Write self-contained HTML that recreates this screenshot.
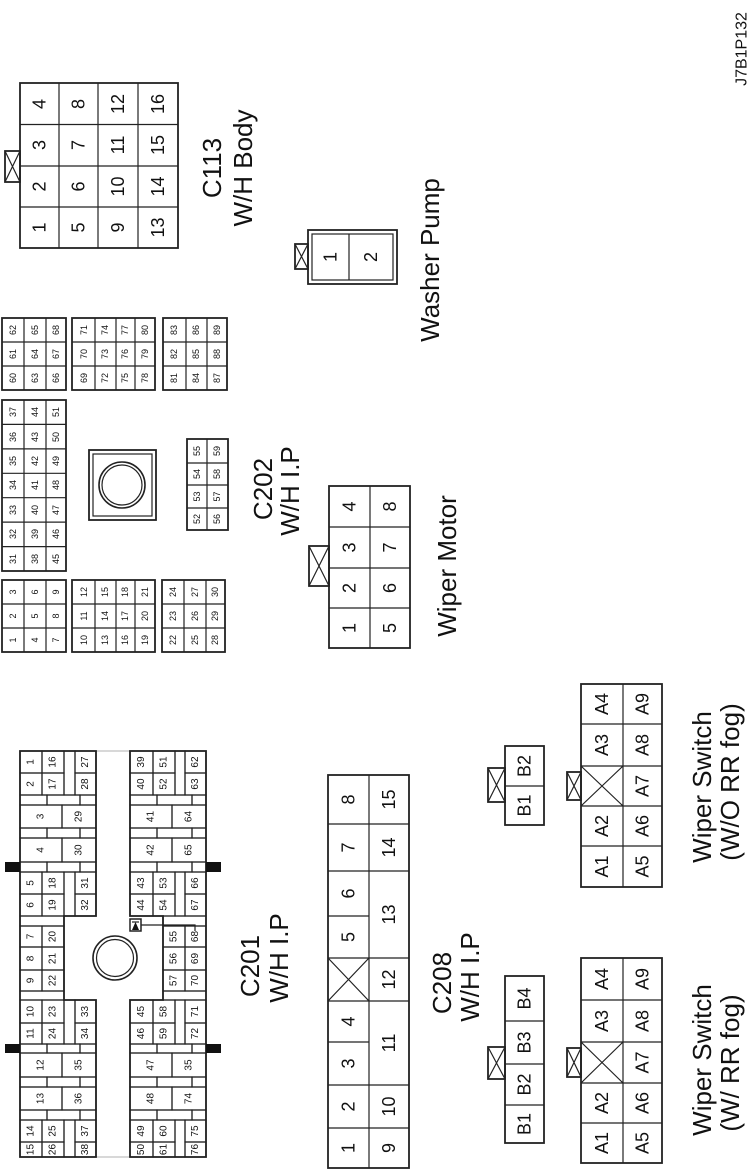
<!DOCTYPE html>
<html><head><meta charset="utf-8"><style>
html,body{margin:0;padding:0;background:#fff;width:750px;height:1170px;overflow:hidden}
svg{display:block}
text{font-family:"Liberation Sans",Arial,sans-serif;fill:#111;text-anchor:middle;dominant-baseline:central}
.s{font-size:9px}.m{font-size:10px}.b{font-size:18px}.l{font-size:26px}
rect,path,circle{fill:none;stroke:#222;stroke-width:1.2}
.o{stroke-width:1.8}
.k{fill:#111;stroke:none}
</style></head><body>
<svg width="750" height="1170" viewBox="0 0 750 1170" xmlns="http://www.w3.org/2000/svg">

<!-- C202 small grids -->
<g>
<rect class="o" x="2" y="580" width="64" height="72"/><path d="M24,580V652M46,580V652M2,604H66M2,628H66"/>
<rect class="o" x="72" y="580" width="83" height="72"/><path d="M95,580V652M116,580V652M135,580V652M72,604H155M72,628H155"/>
<rect class="o" x="162" y="580" width="63" height="72"/><path d="M184,580V652M206,580V652M162,604H225M162,628H225"/>
<rect class="o" x="2" y="400" width="64" height="171"/><path d="M24,400V571M46,400V571M2,424.4H66M2,448.9H66M2,473.3H66M2,497.7H66M2,522.1H66M2,546.6H66"/>
<rect class="o" x="2" y="318" width="64" height="72"/><path d="M24,318V390M46,318V390M2,342H66M2,366H66"/>
<rect class="o" x="72" y="318" width="83" height="72"/><path d="M95,318V390M116,318V390M135,318V390M72,342H155M72,366H155"/>
<rect class="o" x="163" y="318" width="64" height="72"/><path d="M186,318V390M207,318V390M163,342H227M163,366H227"/>
<rect class="o" x="187" y="439" width="41" height="91"/><path d="M207,439V530M187,463H228M187,485H228M187,508H228"/>
<rect class="o" x="89" y="450" width="67" height="70"/><rect x="93" y="454" width="59" height="62"/>
<circle cx="122" cy="485" r="23" style="stroke-width:1.6"/><circle cx="122" cy="485" r="20"/>
</g>
<g class="s">
<text transform="translate(13,592) rotate(-90)">3</text><text transform="translate(13,616) rotate(-90)">2</text><text transform="translate(13,640) rotate(-90)">1</text>
<text transform="translate(35,592) rotate(-90)">6</text><text transform="translate(35,616) rotate(-90)">5</text><text transform="translate(35,640) rotate(-90)">4</text>
<text transform="translate(56,592) rotate(-90)">9</text><text transform="translate(56,616) rotate(-90)">8</text><text transform="translate(56,640) rotate(-90)">7</text>
<text transform="translate(84,592) rotate(-90)">12</text><text transform="translate(84,616) rotate(-90)">11</text><text transform="translate(84,640) rotate(-90)">10</text>
<text transform="translate(105,592) rotate(-90)">15</text><text transform="translate(105,616) rotate(-90)">14</text><text transform="translate(105,640) rotate(-90)">13</text>
<text transform="translate(125,592) rotate(-90)">18</text><text transform="translate(125,616) rotate(-90)">17</text><text transform="translate(125,640) rotate(-90)">16</text>
<text transform="translate(145,592) rotate(-90)">21</text><text transform="translate(145,616) rotate(-90)">20</text><text transform="translate(145,640) rotate(-90)">19</text>
<text transform="translate(173,592) rotate(-90)">24</text><text transform="translate(173,616) rotate(-90)">23</text><text transform="translate(173,640) rotate(-90)">22</text>
<text transform="translate(195,592) rotate(-90)">27</text><text transform="translate(195,616) rotate(-90)">26</text><text transform="translate(195,640) rotate(-90)">25</text>
<text transform="translate(215,592) rotate(-90)">30</text><text transform="translate(215,616) rotate(-90)">29</text><text transform="translate(215,640) rotate(-90)">28</text>

<text transform="translate(13,412) rotate(-90)">37</text><text transform="translate(13,437) rotate(-90)">36</text><text transform="translate(13,461) rotate(-90)">35</text><text transform="translate(13,485) rotate(-90)">34</text><text transform="translate(13,510) rotate(-90)">33</text><text transform="translate(13,534) rotate(-90)">32</text><text transform="translate(13,559) rotate(-90)">31</text>
<text transform="translate(35,412) rotate(-90)">44</text><text transform="translate(35,437) rotate(-90)">43</text><text transform="translate(35,461) rotate(-90)">42</text><text transform="translate(35,485) rotate(-90)">41</text><text transform="translate(35,510) rotate(-90)">40</text><text transform="translate(35,534) rotate(-90)">39</text><text transform="translate(35,559) rotate(-90)">38</text>
<text transform="translate(56,412) rotate(-90)">51</text><text transform="translate(56,437) rotate(-90)">50</text><text transform="translate(56,461) rotate(-90)">49</text><text transform="translate(56,485) rotate(-90)">48</text><text transform="translate(56,510) rotate(-90)">47</text><text transform="translate(56,534) rotate(-90)">46</text><text transform="translate(56,559) rotate(-90)">45</text>

<text transform="translate(13,330) rotate(-90)">62</text><text transform="translate(13,354) rotate(-90)">61</text><text transform="translate(13,378) rotate(-90)">60</text>
<text transform="translate(35,330) rotate(-90)">65</text><text transform="translate(35,354) rotate(-90)">64</text><text transform="translate(35,378) rotate(-90)">63</text>
<text transform="translate(56,330) rotate(-90)">68</text><text transform="translate(56,354) rotate(-90)">67</text><text transform="translate(56,378) rotate(-90)">66</text>
<text transform="translate(84,330) rotate(-90)">71</text><text transform="translate(84,354) rotate(-90)">70</text><text transform="translate(84,378) rotate(-90)">69</text>
<text transform="translate(105,330) rotate(-90)">74</text><text transform="translate(105,354) rotate(-90)">73</text><text transform="translate(105,378) rotate(-90)">72</text>
<text transform="translate(125,330) rotate(-90)">77</text><text transform="translate(125,354) rotate(-90)">76</text><text transform="translate(125,378) rotate(-90)">75</text>
<text transform="translate(145,330) rotate(-90)">80</text><text transform="translate(145,354) rotate(-90)">79</text><text transform="translate(145,378) rotate(-90)">78</text>
<text transform="translate(174,330) rotate(-90)">83</text><text transform="translate(174,354) rotate(-90)">82</text><text transform="translate(174,378) rotate(-90)">81</text>
<text transform="translate(196,330) rotate(-90)">86</text><text transform="translate(196,354) rotate(-90)">85</text><text transform="translate(196,378) rotate(-90)">84</text>
<text transform="translate(217,330) rotate(-90)">89</text><text transform="translate(217,354) rotate(-90)">88</text><text transform="translate(217,378) rotate(-90)">87</text>

<text transform="translate(197,451) rotate(-90)">55</text><text transform="translate(197,474) rotate(-90)">54</text><text transform="translate(197,496.5) rotate(-90)">53</text><text transform="translate(197,519) rotate(-90)">52</text>
<text transform="translate(217,451) rotate(-90)">59</text><text transform="translate(217,474) rotate(-90)">58</text><text transform="translate(217,496.5) rotate(-90)">57</text><text transform="translate(217,519) rotate(-90)">56</text>
</g>

<!-- C201 -->
<g>
<path d="M96,751H130M96,1157H130" style="stroke:#999;stroke-width:0.8"/>
<!-- left -->
<rect x="20" y="751" width="22" height="22"/><rect x="42" y="751" width="22" height="22"/><rect x="64" y="751" width="11" height="44"/><rect x="75" y="751" width="21" height="22"/>
<rect x="20" y="773" width="22" height="22"/><rect x="42" y="773" width="22" height="22"/><rect x="75" y="773" width="21" height="22"/>
<rect x="20" y="795" width="27" height="10"/><rect x="47" y="795" width="33" height="10"/><rect x="80" y="795" width="16" height="10"/>
<rect x="20" y="805" width="42" height="23"/><rect x="62" y="805" width="34" height="23"/>
<rect x="20" y="828" width="27" height="10"/><rect x="47" y="828" width="33" height="10"/><rect x="80" y="828" width="16" height="10"/>
<rect x="20" y="838" width="42" height="24"/><rect x="62" y="838" width="34" height="24"/>
<rect x="20" y="862" width="27" height="10"/><rect x="47" y="862" width="33" height="10"/><rect x="80" y="862" width="16" height="10"/>
<rect x="20" y="872" width="22" height="22"/><rect x="42" y="872" width="22" height="22"/><rect x="64" y="872" width="11" height="44"/><rect x="75" y="872" width="21" height="22"/>
<rect x="20" y="894" width="22" height="22"/><rect x="42" y="894" width="22" height="22"/><rect x="75" y="894" width="21" height="22"/>
<rect x="20" y="916" width="44" height="10"/>
<rect x="20" y="926" width="22" height="21"/><rect x="42" y="926" width="22" height="21"/>
<rect x="20" y="947" width="22" height="23"/><rect x="42" y="947" width="22" height="23"/>
<rect x="20" y="970" width="22" height="21"/><rect x="42" y="970" width="22" height="21"/>
<rect x="20" y="991" width="44" height="9"/>
<rect x="20" y="1000" width="22" height="23"/><rect x="42" y="1000" width="22" height="23"/><rect x="64" y="1000" width="11" height="44"/><rect x="75" y="1000" width="21" height="23"/>
<rect x="20" y="1023" width="22" height="21"/><rect x="42" y="1023" width="22" height="21"/><rect x="75" y="1023" width="21" height="21"/>
<rect x="20" y="1044" width="27" height="9"/><rect x="47" y="1044" width="33" height="9"/><rect x="80" y="1044" width="16" height="9"/>
<rect x="20" y="1053" width="42" height="24"/><rect x="62" y="1053" width="34" height="24"/>
<rect x="20" y="1077" width="27" height="10"/><rect x="47" y="1077" width="33" height="10"/><rect x="80" y="1077" width="16" height="10"/>
<rect x="20" y="1087" width="42" height="23"/><rect x="62" y="1087" width="34" height="23"/>
<rect x="20" y="1110" width="27" height="10"/><rect x="47" y="1110" width="33" height="10"/><rect x="80" y="1110" width="16" height="10"/>
<rect x="20" y="1120" width="22" height="22"/><rect x="42" y="1120" width="22" height="22"/><rect x="64" y="1120" width="11" height="37"/><rect x="75" y="1120" width="21" height="22"/>
<rect x="20" y="1142" width="22" height="15"/><rect x="42" y="1142" width="22" height="15"/><rect x="75" y="1142" width="21" height="15"/>
<path class="o" d="M20,751H96V916H64V1000H96V1157H20Z"/>
<!-- right -->
<rect x="130" y="751" width="23" height="22"/><rect x="153" y="751" width="22" height="22"/><rect x="175" y="751" width="10" height="44"/><rect x="185" y="751" width="21" height="22"/>
<rect x="130" y="773" width="23" height="22"/><rect x="153" y="773" width="22" height="22"/><rect x="185" y="773" width="21" height="22"/>
<rect x="130" y="795" width="27" height="10"/><rect x="157" y="795" width="35" height="10"/><rect x="192" y="795" width="14" height="10"/>
<rect x="130" y="805" width="42" height="23"/><rect x="172" y="805" width="34" height="23"/>
<rect x="130" y="828" width="27" height="10"/><rect x="157" y="828" width="35" height="10"/><rect x="192" y="828" width="14" height="10"/>
<rect x="130" y="838" width="42" height="24"/><rect x="172" y="838" width="34" height="24"/>
<rect x="130" y="862" width="27" height="10"/><rect x="157" y="862" width="35" height="10"/><rect x="192" y="862" width="14" height="10"/>
<rect x="130" y="872" width="23" height="22"/><rect x="153" y="872" width="22" height="22"/><rect x="175" y="872" width="10" height="44"/><rect x="185" y="872" width="21" height="22"/>
<rect x="130" y="894" width="23" height="22"/><rect x="153" y="894" width="22" height="22"/><rect x="185" y="894" width="21" height="22"/>
<rect x="163" y="916" width="43" height="10"/>
<rect x="163" y="926" width="22" height="21"/><rect x="185" y="926" width="21" height="21"/>
<rect x="163" y="947" width="22" height="23"/><rect x="185" y="947" width="21" height="23"/>
<rect x="163" y="970" width="22" height="21"/><rect x="185" y="970" width="21" height="21"/>
<rect x="163" y="991" width="43" height="9"/>
<rect x="130" y="1000" width="23" height="23"/><rect x="153" y="1000" width="22" height="23"/><rect x="175" y="1000" width="10" height="44"/><rect x="185" y="1000" width="21" height="23"/>
<rect x="130" y="1023" width="23" height="21"/><rect x="153" y="1023" width="22" height="21"/><rect x="185" y="1023" width="21" height="21"/>
<rect x="130" y="1044" width="27" height="9"/><rect x="157" y="1044" width="35" height="9"/><rect x="192" y="1044" width="14" height="9"/>
<rect x="130" y="1053" width="42" height="24"/><rect x="172" y="1053" width="34" height="24"/>
<rect x="130" y="1077" width="27" height="10"/><rect x="157" y="1077" width="35" height="10"/><rect x="192" y="1077" width="14" height="10"/>
<rect x="130" y="1087" width="42" height="23"/><rect x="172" y="1087" width="34" height="23"/>
<rect x="130" y="1110" width="27" height="10"/><rect x="157" y="1110" width="35" height="10"/><rect x="192" y="1110" width="14" height="10"/>
<rect x="130" y="1120" width="23" height="22"/><rect x="153" y="1120" width="22" height="22"/><rect x="175" y="1120" width="10" height="37"/><rect x="185" y="1120" width="21" height="22"/>
<rect x="130" y="1142" width="23" height="15"/><rect x="153" y="1142" width="22" height="15"/><rect x="185" y="1142" width="21" height="15"/>
<path class="o" d="M130,751H206V1157H130V1000H163V916H130Z"/>
<rect class="k" x="5" y="862" width="15" height="10"/><rect class="k" x="5" y="1044" width="15" height="9"/>
<rect class="k" x="206" y="862" width="15" height="10"/><rect class="k" x="206" y="1044" width="15" height="9"/>
<circle cx="115" cy="958" r="22" style="stroke-width:1.6"/><circle cx="115" cy="958" r="18.5"/>
<rect x="130" y="919" width="11" height="12" style="stroke-width:1.5"/>
<path class="k" d="M132,930L139,930L135.5,922Z"/><path d="M132,922H139"/>
<path d="M141,925H195V931"/>
</g>
<g class="m">
<text transform="translate(31,762) rotate(-90)">1</text><text transform="translate(53,762) rotate(-90)">16</text><text transform="translate(85.5,762) rotate(-90)">27</text>
<text transform="translate(31,784) rotate(-90)">2</text><text transform="translate(53,784) rotate(-90)">17</text><text transform="translate(85.5,784) rotate(-90)">28</text>
<text transform="translate(41,816.5) rotate(-90)">3</text><text transform="translate(79,816.5) rotate(-90)">29</text>
<text transform="translate(41,850) rotate(-90)">4</text><text transform="translate(79,850) rotate(-90)">30</text>
<text transform="translate(31,883) rotate(-90)">5</text><text transform="translate(53,883) rotate(-90)">18</text><text transform="translate(85.5,883) rotate(-90)">31</text>
<text transform="translate(31,905) rotate(-90)">6</text><text transform="translate(53,905) rotate(-90)">19</text><text transform="translate(85.5,905) rotate(-90)">32</text>
<text transform="translate(31,936.5) rotate(-90)">7</text><text transform="translate(53,936.5) rotate(-90)">20</text>
<text transform="translate(31,958.5) rotate(-90)">8</text><text transform="translate(53,958.5) rotate(-90)">21</text>
<text transform="translate(31,980.5) rotate(-90)">9</text><text transform="translate(53,980.5) rotate(-90)">22</text>
<text transform="translate(31,1011.5) rotate(-90)">10</text><text transform="translate(53,1011.5) rotate(-90)">23</text><text transform="translate(85.5,1011.5) rotate(-90)">33</text>
<text transform="translate(31,1033.5) rotate(-90)">11</text><text transform="translate(53,1033.5) rotate(-90)">24</text><text transform="translate(85.5,1033.5) rotate(-90)">34</text>
<text transform="translate(41,1065) rotate(-90)">12</text><text transform="translate(79,1065) rotate(-90)">35</text>
<text transform="translate(41,1098.5) rotate(-90)">13</text><text transform="translate(79,1098.5) rotate(-90)">36</text>
<text transform="translate(31,1131) rotate(-90)">14</text><text transform="translate(53,1131) rotate(-90)">25</text><text transform="translate(85.5,1131) rotate(-90)">37</text>
<text transform="translate(31,1149.5) rotate(-90)">15</text><text transform="translate(53,1149.5) rotate(-90)">26</text><text transform="translate(85.5,1149.5) rotate(-90)">38</text>

<text transform="translate(141.5,762) rotate(-90)">39</text><text transform="translate(164,762) rotate(-90)">51</text><text transform="translate(195.5,762) rotate(-90)">62</text>
<text transform="translate(141.5,784) rotate(-90)">40</text><text transform="translate(164,784) rotate(-90)">52</text><text transform="translate(195.5,784) rotate(-90)">63</text>
<text transform="translate(151,816.5) rotate(-90)">41</text><text transform="translate(189,816.5) rotate(-90)">64</text>
<text transform="translate(151,850) rotate(-90)">42</text><text transform="translate(189,850) rotate(-90)">65</text>
<text transform="translate(141.5,883) rotate(-90)">43</text><text transform="translate(164,883) rotate(-90)">53</text><text transform="translate(195.5,883) rotate(-90)">66</text>
<text transform="translate(141.5,905) rotate(-90)">44</text><text transform="translate(164,905) rotate(-90)">54</text><text transform="translate(195.5,905) rotate(-90)">67</text>
<text transform="translate(174,936.5) rotate(-90)">55</text><text transform="translate(195.5,936.5) rotate(-90)">68</text>
<text transform="translate(174,958.5) rotate(-90)">56</text><text transform="translate(195.5,958.5) rotate(-90)">69</text>
<text transform="translate(174,980.5) rotate(-90)">57</text><text transform="translate(195.5,980.5) rotate(-90)">70</text>
<text transform="translate(141.5,1011.5) rotate(-90)">45</text><text transform="translate(164,1011.5) rotate(-90)">58</text><text transform="translate(195.5,1011.5) rotate(-90)">71</text>
<text transform="translate(141.5,1033.5) rotate(-90)">46</text><text transform="translate(164,1033.5) rotate(-90)">59</text><text transform="translate(195.5,1033.5) rotate(-90)">72</text>
<text transform="translate(151,1065) rotate(-90)">47</text><text transform="translate(189,1065) rotate(-90)">35</text>
<text transform="translate(151,1098.5) rotate(-90)">48</text><text transform="translate(189,1098.5) rotate(-90)">74</text>
<text transform="translate(141.5,1131) rotate(-90)">49</text><text transform="translate(164,1131) rotate(-90)">60</text><text transform="translate(195.5,1131) rotate(-90)">75</text>
<text transform="translate(141.5,1149.5) rotate(-90)">50</text><text transform="translate(164,1149.5) rotate(-90)">61</text><text transform="translate(195.5,1149.5) rotate(-90)">76</text>
</g>

<!-- C208 big -->
<g>
<rect class="o" x="328" y="775" width="81" height="393"/>
<path d="M369,775V1168M328,824H409M328,871H409M328,916H369M328,958H409M328,1001H409M328,1042H369M328,1085H409M328,1128H409M328,958L369,1001M369,958L328,1001"/>
</g>
<g class="b">
<text transform="translate(348.5,799.5) rotate(-90)">8</text><text transform="translate(348.5,847.5) rotate(-90)">7</text><text transform="translate(348.5,893.5) rotate(-90)">6</text><text transform="translate(348.5,937) rotate(-90)">5</text><text transform="translate(348.5,1021.5) rotate(-90)">4</text><text transform="translate(348.5,1063.5) rotate(-90)">3</text><text transform="translate(348.5,1106.5) rotate(-90)">2</text><text transform="translate(348.5,1148) rotate(-90)">1</text>
<text transform="translate(389,799.5) rotate(-90)">15</text><text transform="translate(389,847.5) rotate(-90)">14</text><text transform="translate(389,914.5) rotate(-90)">13</text><text transform="translate(389,979.5) rotate(-90)">12</text><text transform="translate(389,1043) rotate(-90)">11</text><text transform="translate(389,1106.5) rotate(-90)">10</text><text transform="translate(389,1148) rotate(-90)">9</text>
</g>

<!-- B connectors -->
<g>
<rect class="o" x="505" y="976" width="39" height="167"/><path d="M505,1021H544M505,1064H544M505,1105H544"/>
<rect class="o" x="488" y="1047" width="17" height="32"/><path d="M488,1047L505,1079M505,1047L488,1079"/>
<rect class="o" x="505" y="746" width="39" height="79"/><path d="M505,786H544"/>
<rect class="o" x="488" y="768" width="17" height="34"/><path d="M488,768L505,802M505,768L488,802"/>
</g>
<g class="b">
<text transform="translate(524.5,998.5) rotate(-90)">B4</text><text transform="translate(524.5,1042.5) rotate(-90)">B3</text><text transform="translate(524.5,1084.5) rotate(-90)">B2</text><text transform="translate(524.5,1124) rotate(-90)">B1</text>
<text transform="translate(524.5,766) rotate(-90)">B2</text><text transform="translate(524.5,805.5) rotate(-90)">B1</text>
</g>

<!-- Wiper switches -->
<g>
<rect class="o" x="581" y="958" width="81" height="205"/><path d="M623,958V1163M581,1000H662M581,1042H662M581,1083H662M581,1123H662M581,1042L623,1083M623,1042L581,1083"/>
<rect class="o" x="567" y="1048" width="14" height="29"/><path d="M567,1048L581,1077M581,1048L567,1077"/>
<rect class="o" x="581" y="684" width="81" height="203"/><path d="M623,684V887M581,724H662M581,766H662M581,806H662M581,846H662M581,766L623,806M623,766L581,806"/>
<rect class="o" x="567" y="772" width="14" height="28"/><path d="M567,772L581,800M581,772L567,800"/>
</g>
<g class="b">
<text transform="translate(602,979) rotate(-90)">A4</text><text transform="translate(602,1021) rotate(-90)">A3</text><text transform="translate(602,1103) rotate(-90)">A2</text><text transform="translate(602,1143) rotate(-90)">A1</text>
<text transform="translate(642.5,979) rotate(-90)">A9</text><text transform="translate(642.5,1021) rotate(-90)">A8</text><text transform="translate(642.5,1062.5) rotate(-90)">A7</text><text transform="translate(642.5,1103) rotate(-90)">A6</text><text transform="translate(642.5,1143) rotate(-90)">A5</text>
<text transform="translate(602,704) rotate(-90)">A4</text><text transform="translate(602,745) rotate(-90)">A3</text><text transform="translate(602,826) rotate(-90)">A2</text><text transform="translate(602,866.5) rotate(-90)">A1</text>
<text transform="translate(642.5,704) rotate(-90)">A9</text><text transform="translate(642.5,745) rotate(-90)">A8</text><text transform="translate(642.5,786) rotate(-90)">A7</text><text transform="translate(642.5,826) rotate(-90)">A6</text><text transform="translate(642.5,866.5) rotate(-90)">A5</text>
</g>

<!-- Wiper motor -->
<g>
<rect class="o" x="329" y="486" width="81" height="162"/><path d="M370,486V648M329,527H410M329,568H410M329,608H410"/>
<rect class="o" x="309" y="546" width="20" height="40"/><path d="M309,546L329,586M329,546L309,586"/>
</g>
<g class="b">
<text transform="translate(349.5,506.5) rotate(-90)">4</text><text transform="translate(349.5,547.5) rotate(-90)">3</text><text transform="translate(349.5,588) rotate(-90)">2</text><text transform="translate(349.5,628) rotate(-90)">1</text>
<text transform="translate(390,506.5) rotate(-90)">8</text><text transform="translate(390,547.5) rotate(-90)">7</text><text transform="translate(390,588) rotate(-90)">6</text><text transform="translate(390,628) rotate(-90)">5</text>
</g>

<!-- C113 -->
<g>
<rect class="o" x="20" y="83" width="158" height="165"/><path d="M59,83V248M98,83V248M138,83V248M20,124.5H178M20,166H178M20,207H178"/>
<rect class="o" x="5" y="151" width="15" height="31"/><path d="M5,151L20,182M20,151L5,182"/>
</g>
<g class="b">
<text transform="translate(39.5,104) rotate(-90)">4</text><text transform="translate(39.5,145) rotate(-90)">3</text><text transform="translate(39.5,186.5) rotate(-90)">2</text><text transform="translate(39.5,227.5) rotate(-90)">1</text>
<text transform="translate(78.5,104) rotate(-90)">8</text><text transform="translate(78.5,145) rotate(-90)">7</text><text transform="translate(78.5,186.5) rotate(-90)">6</text><text transform="translate(78.5,227.5) rotate(-90)">5</text>
<text transform="translate(118,104) rotate(-90)">12</text><text transform="translate(118,145) rotate(-90)">11</text><text transform="translate(118,186.5) rotate(-90)">10</text><text transform="translate(118,227.5) rotate(-90)">9</text>
<text transform="translate(158,104) rotate(-90)">16</text><text transform="translate(158,145) rotate(-90)">15</text><text transform="translate(158,186.5) rotate(-90)">14</text><text transform="translate(158,227.5) rotate(-90)">13</text>
</g>

<!-- Washer pump -->
<g>
<rect class="o" x="308" y="230" width="89" height="54"/><rect x="312" y="234" width="81" height="46"/><path d="M349,234V280"/>
<rect class="o" x="295" y="244" width="13" height="25"/><path d="M295,244L308,269M308,244L295,269"/>
</g>
<g class="b">
<text transform="translate(330.5,257) rotate(-90)">1</text><text transform="translate(371,257) rotate(-90)">2</text>
</g>

<!-- Labels -->
<g class="l">
<text transform="translate(212,168) rotate(-90)">C113</text>
<text transform="translate(243,168) rotate(-90)">W/H Body</text>
<text transform="translate(430,260) rotate(-90)">Washer Pump</text>
<text transform="translate(263,489) rotate(-90)">C202</text>
<text transform="translate(290,491) rotate(-90)">W/H I.P</text>
<text transform="translate(447,566) rotate(-90)">Wiper Motor</text>
<text transform="translate(250,966) rotate(-90)">C201</text>
<text transform="translate(279,958) rotate(-90)">W/H I.P</text>
<text transform="translate(442,983) rotate(-90)">C208</text>
<text transform="translate(470,977) rotate(-90)">W/H I.P</text>
<text transform="translate(702,787) rotate(-90)">Wiper Switch</text>
<text transform="translate(730,782) rotate(-90)">(W/O RR fog)</text>
<text transform="translate(702,1060) rotate(-90)">Wiper Switch</text>
<text transform="translate(730,1063) rotate(-90)">(W/ RR fog)</text>
</g>
<text transform="translate(742,49) rotate(-90)" style="font-size:16px">J7B1P132</text>
</svg>
</body></html>
